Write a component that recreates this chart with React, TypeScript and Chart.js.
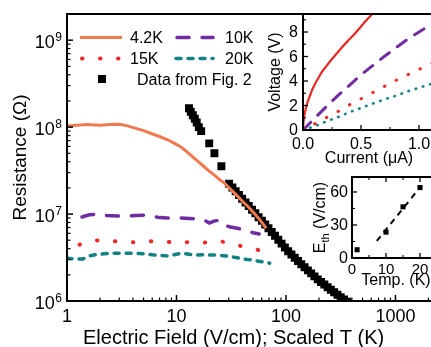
import React, { useEffect, useRef } from "react";
import { Chart, registerables } from "chart.js";
Chart.register(...registerables);

const FONT = '"Liberation Sans", Arial, Helvetica, sans-serif';
const CW = 470;
const CH = 347;

// ---------------- main plot data ----------------
const field42 = [1, 1.5, 2.0, 2.5, 3.0, 3.5, 4.1, 5.0, 5.8, 7.0, 8.4, 9.6, 11, 12.7, 14.5, 16.2, 17.9, 20, 22.2, 24.7, 27.4, 30.5, 33.9, 39, 45.6, 52, 59, 66];
const res42 = [1.03e8, 1.07e8, 1.05e8, 1.07e8, 1.08e8, 1.04e8, 9.8e7, 9.1e7, 8.5e7, 7.8e7, 7.1e7, 6.5e7, 5.9e7, 5.1e7, 4.4e7, 3.9e7, 3.5e7, 3.1e7, 2.8e7, 2.5e7, 2.27e7, 1.98e7, 1.74e7, 1.45e7, 1.2e7, 1.0e7, 8.3e6, 6.9e6];

const field10 = [1.37, 1.6, 1.9, 2.3, 2.9, 3.6, 4.3, 5.0, 6.0, 7.0, 8.3, 9.5, 11, 13, 15, 17.9, 20, 22, 25, 28, 31, 35, 39, 44, 50, 57];
const res10 = [9.25e6, 9.8e6, 1.0e7, 9.6e6, 9.5e6, 9.5e6, 9.6e6, 9.7e6, 9.4e6, 9.1e6, 9.0e6, 9.1e6, 9.0e6, 8.9e6, 8.8e6, 8.5e6, 7.9e6, 8.3e6, 8.5e6, 7.4e6, 7.1e6, 6.9e6, 6.7e6, 6.4e6, 6.1e6, 5.9e6];

const field15 = [1.3, 1.6, 1.95, 2.5, 3.2, 4.0, 5.0, 6.5, 8, 10, 12.5, 15, 18, 21, 25, 30, 35, 42, 50, 56];
const res15 = [4.45e6, 4.8e6, 5.0e6, 4.9e6, 4.8e6, 4.75e6, 4.8e6, 4.9e6, 4.8e6, 4.7e6, 4.75e6, 4.8e6, 4.7e6, 4.8e6, 4.9e6, 4.6e6, 4.4e6, 4.2e6, 4.0e6, 3.85e6];

const field20 = [1.0, 1.2, 1.4, 1.6, 1.8, 2.2, 2.7, 3.3, 4.1, 5.0, 6.0, 7.0, 8.3, 9.5, 11, 13, 15, 18, 21, 24, 28, 33, 38, 44, 50, 58, 65, 71];
const res20 = [3.1e6, 3.05e6, 3.05e6, 3.3e6, 3.4e6, 3.5e6, 3.55e6, 3.55e6, 3.55e6, 3.5e6, 3.4e6, 3.35e6, 3.3e6, 3.4e6, 3.55e6, 3.45e6, 3.38e6, 3.4e6, 3.38e6, 3.38e6, 3.3e6, 3.2e6, 3.1e6, 3.0e6, 2.95e6, 2.85e6, 2.78e6, 2.72e6];

const fieldFig2 = [13.0, 13.5, 14.1, 14.7, 15.3, 16.0, 16.8, 19.9, 22.2, 25.7,
  30.2, 32.4, 34.7, 37.2, 39.8, 42.7, 45.7, 49.0, 52.5, 56.2, 60.3, 64.6, 69.2, 74.1, 79.4, 85.1, 91.2, 97.7,
  104.7, 112.2, 120.2, 128.8, 138, 147.9, 158.5, 169.8, 182, 195, 208.9, 223.9, 239.9, 257, 275.4, 295, 316, 339, 363, 389, 417];
const resFig2 = [1.65e8, 1.5e8, 1.37e8, 1.25e8, 1.13e8, 1.0e8, 9.0e7, 6.5e7, 5.0e7, 3.55e7,
  2.23e7, 2.02e7, 1.83e7, 1.66e7, 1.5e7, 1.36e7, 1.24e7, 1.12e7, 1.02e7, 9.2e6, 8.36e6, 7.59e6, 6.87e6, 6.22e6, 5.62e6, 5.07e6, 4.57e6, 4.12e6,
  3.73e6, 3.43e6, 3.14e6, 2.88e6, 2.65e6, 2.44e6, 2.25e6, 2.08e6, 1.92e6, 1.774e6, 1.656e6, 1.545e6, 1.442e6, 1.346e6, 1.259e6, 1.18e6, 1.109e6, 1.042e6, 0.98e6, 0.92e6, 0.865e6];

const resDecades = [1e6, 1e7, 1e8, 1e9];
const resExponents = ["6", "7", "8", "9"];
const fieldTicks = [1, 10, 100, 1000];
const fieldTickLabels = ["1", "10", "100", "1000"];

// ---------------- top inset (I-V) ----------------
const iv42I = [0, 0.005, 0.01, 0.02, 0.04, 0.06, 0.08, 0.1, 0.13, 0.16, 0.2, 0.25, 0.3, 0.35, 0.4, 0.45, 0.5, 0.55, 0.6, 0.65];
const iv42V = [0, 0.7, 1.1, 1.6, 2.3, 2.8, 3.3, 3.7, 4.2, 4.7, 5.2, 5.8, 6.35, 6.9, 7.4, 7.9, 8.45, 9.0, 9.5, 10.0];
const ivI = [0, 0.1, 0.2, 0.3, 0.4, 0.5, 0.6, 0.7, 0.8, 0.9, 1.0, 1.1, 1.15];
const iv10V = [0, 0.95, 1.9, 2.8, 3.65, 4.5, 5.25, 6.0, 6.7, 7.4, 8.0, 8.6, 8.9];
const iv15V = [0, 0.5, 1.0, 1.5, 2.05, 2.55, 3.05, 3.55, 4.05, 4.5, 4.95, 5.4, 5.6];
const iv20V = [0, 0.3, 0.7, 1.05, 1.45, 1.8, 2.15, 2.5, 2.8, 3.15, 3.45, 3.75, 3.9];
const ivXTicks = [0, 0.5, 1.0];
const ivXTickLabels = ["0.0", "0.5", "1.0"];
const ivXMinor = [0.25, 0.75];
const ivYTicks = [0, 2, 4, 6, 8];
const ivYMinor = [1, 3, 5, 7, 9];

// ---------------- bottom inset (Eth vs T) ----------------
const ethTemp = [1.5, 10, 15, 20];
const ethField = [7.5, 23.5, 46.5, 64];
const fitTemp = [7.3, 20.5];
const fitField = [15.5, 66];
const ethXTicks = [0, 10, 20];
const ethXMinor = [5, 15, 25];
const ethYTicks = [0, 30, 60];
const ethYMinor = [15, 45];

const ORANGE = "rgb(240,122,80)";
const PURPLE = "rgb(112,44,160)";
const RED = "rgb(240,40,40)";
const TEAL = "rgb(20,130,130)";

const pts = (xs: number[], ys: number[]) => xs.map((x, i) => ({ x, y: ys[i] }));

function seg(ctx: CanvasRenderingContext2D, x1: number, y1: number, x2: number, y2: number, w: number) {
  ctx.lineWidth = w;
  ctx.beginPath();
  ctx.moveTo(x1, y1);
  ctx.lineTo(x2, y2);
  ctx.stroke();
}
function txt(ctx: CanvasRenderingContext2D, s: string, x: number, y: number, size: number, align: CanvasTextAlign = "left", baseline: CanvasTextBaseline = "alphabetic") {
  ctx.font = `${size}px ${FONT}`;
  ctx.textAlign = align;
  ctx.textBaseline = baseline;
  ctx.fillText(s, x, y);
}
function frame(ctx: CanvasRenderingContext2D, a: any) {
  ctx.lineWidth = 2;
  ctx.lineJoin = "miter";
  ctx.beginPath();
  ctx.moveTo(a.right + 5, a.top);
  ctx.lineTo(a.left, a.top);
  ctx.lineTo(a.left, a.bottom);
  ctx.lineTo(a.right + 5, a.bottom);
  ctx.stroke();
}

const mainPlugin = {
  id: "mainDecor",
  afterDraw(chart: any) {
    const { ctx, chartArea: a, scales } = chart;
    const x = scales.x, y = scales.y;
    ctx.save();
    ctx.strokeStyle = "#000";
    ctx.fillStyle = "#000";
    ctx.setLineDash([]);
    frame(ctx, a);
    resDecades.forEach((d) => {
      const py = y.getPixelForValue(d);
      seg(ctx, a.left, py, a.left + 6, py, 1.5);
      for (let k = 2; k <= 9; k++) {
        const v = d * k;
        if (v >= 2e9) continue;
        const p = y.getPixelForValue(v);
        seg(ctx, a.left, p, a.left + 3.5, p, 1.2);
      }
    });
    fieldTicks.forEach((d) => {
      const px = x.getPixelForValue(d);
      seg(ctx, px, a.bottom, px, a.bottom - 6, 1.5);
      for (let k = 2; k <= 9; k++) {
        const v = d * k;
        if (v > 4000) continue;
        const p = x.getPixelForValue(v);
        seg(ctx, p, a.bottom, p, a.bottom - 3.5, 1.2);
      }
    });
    resDecades.forEach((d, i) => {
      const py = y.getPixelForValue(d);
      ctx.font = `12px ${FONT}`;
      const we = ctx.measureText(resExponents[i]).width;
      const ex = a.left - 5 - we;
      txt(ctx, resExponents[i], ex, py + 0.5, 12, "left");
      txt(ctx, "10", ex - 0.5, py + 8, 18, "right");
    });
    fieldTicks.forEach((d, i) => {
      txt(ctx, fieldTickLabels[i], x.getPixelForValue(d), a.bottom + 21, 18, "center");
    });
    txt(ctx, "Electric Field (V/cm); Scaled T (K)", 83, 344, 20, "left");
    ctx.save();
    ctx.translate(26, (a.top + a.bottom) / 2);
    ctx.rotate(-Math.PI / 2);
    txt(ctx, "Resistance (\u03A9)", 0, 0, 19, "center");
    ctx.restore();
    // legend
    const ds = chart.data.datasets;
    const sample = (d: any, x1: number, x2: number, yy: number) => {
      ctx.save();
      ctx.strokeStyle = d.borderColor;
      ctx.lineWidth = d.borderWidth;
      ctx.lineCap = d.borderCapStyle || "butt";
      ctx.setLineDash(d.borderDash || []);
      ctx.beginPath();
      ctx.moveTo(x1, yy);
      ctx.lineTo(x2, yy);
      ctx.stroke();
      ctx.restore();
    };
    sample(ds[0], 80, 122, 37.5);
    txt(ctx, ds[0].label, 130, 43, 16);
    sample(ds[1], 177, 213, 37.5);
    txt(ctx, ds[1].label, 225, 43, 16);
    sample(ds[2], 82, 119, 58.5);
    txt(ctx, ds[2].label, 130, 64, 16);
    sample(ds[3], 176, 213, 58.5);
    txt(ctx, ds[3].label, 225, 64, 16);
    ctx.fillRect(98, 75, 8, 8);
    txt(ctx, ds[4].label, 137, 85, 16);
    ctx.restore();
  },
};

const ivPlugin = {
  id: "ivDecor",
  beforeDraw(chart: any) {
    const { ctx, chartArea: a } = chart;
    ctx.save();
    ctx.fillStyle = "#fff";
    ctx.fillRect(a.left, a.top, a.right - a.left + 10, a.bottom - a.top);
    ctx.restore();
  },
  afterDraw(chart: any) {
    const { ctx, chartArea: a, scales } = chart;
    const x = scales.x, y = scales.y;
    ctx.save();
    ctx.strokeStyle = "#000";
    ctx.fillStyle = "#000";
    frame(ctx, a);
    ivYTicks.forEach((v) => { const p = y.getPixelForValue(v); seg(ctx, a.left, p, a.left + 5, p, 1.3); });
    ivYMinor.forEach((v) => { const p = y.getPixelForValue(v); seg(ctx, a.left, p, a.left + 3, p, 1.1); });
    ivXTicks.forEach((v) => { const p = x.getPixelForValue(v); seg(ctx, p, a.bottom, p, a.bottom - 5, 1.3); });
    ivXMinor.forEach((v) => { const p = x.getPixelForValue(v); seg(ctx, p, a.bottom, p, a.bottom - 3, 1.1); });
    ivYTicks.forEach((v) => txt(ctx, String(v), a.left - 5, y.getPixelForValue(v) + 1, 16, "right", "middle"));
    ivXTicks.forEach((v, i) => txt(ctx, ivXTickLabels[i], x.getPixelForValue(v), a.bottom + 19, 16, "center"));
    txt(ctx, "Current (\u03BCA)", 369, 163, 16, "center");
    ctx.save();
    ctx.translate(280, (a.top + a.bottom) / 2);
    ctx.rotate(-Math.PI / 2);
    txt(ctx, "Voltage (V)", 0, 0, 16, "center");
    ctx.restore();
    ctx.restore();
  },
};

const ethPlugin = {
  id: "ethDecor",
  beforeDraw(chart: any) {
    const { ctx, chartArea: a } = chart;
    ctx.save();
    ctx.fillStyle = "#fff";
    ctx.fillRect(a.left, a.top, a.right - a.left + 10, a.bottom - a.top);
    ctx.restore();
  },
  afterDraw(chart: any) {
    const { ctx, chartArea: a, scales } = chart;
    const x = scales.x, y = scales.y;
    ctx.save();
    ctx.strokeStyle = "#000";
    ctx.fillStyle = "#000";
    frame(ctx, a);
    ethYTicks.forEach((v) => { const p = y.getPixelForValue(v); seg(ctx, a.left, p, a.left + 5, p, 1.3); });
    ethYMinor.forEach((v) => { const p = y.getPixelForValue(v); seg(ctx, a.left, p, a.left + 3, p, 1.1); });
    ethXTicks.forEach((v) => {
      const p = x.getPixelForValue(v);
      seg(ctx, p, a.bottom, p, a.bottom - 5, 1.3);
      seg(ctx, p, a.top, p, a.top + 5, 1.3);
    });
    ethXMinor.forEach((v) => {
      const p = x.getPixelForValue(v);
      seg(ctx, p, a.bottom, p, a.bottom - 3, 1.1);
      seg(ctx, p, a.top, p, a.top + 3, 1.1);
    });
    ethYTicks.forEach((v) => txt(ctx, String(v), a.left - 4, y.getPixelForValue(v) + 1, 16, "right", "middle"));
    ethXTicks.forEach((v) => txt(ctx, String(v), x.getPixelForValue(v), a.bottom + 16, 15, "center"));
    txt(ctx, "Temp. (K)", 396, 285, 16, "center");
    ctx.save();
    ctx.translate(325, (a.top + a.bottom) / 2);
    ctx.rotate(-Math.PI / 2);
    ctx.font = `16px ${FONT}`;
    const wE = ctx.measureText("E").width;
    const wR = ctx.measureText(" (V/cm)").width;
    ctx.font = `11px ${FONT}`;
    const wT = ctx.measureText("th").width;
    let xx = -(wE + wT + wR) / 2;
    txt(ctx, "E", xx, 0, 16);
    xx += wE;
    txt(ctx, "th", xx, 4, 11);
    xx += wT;
    txt(ctx, " (V/cm)", xx, 0, 16);
    ctx.restore();
    ctx.restore();
  },
};

function useChart(ref: React.RefObject<HTMLCanvasElement | null>, make: () => any) {
  useEffect(() => {
    if (!ref.current) return;
    const chart = new Chart(ref.current, make());
    return () => chart.destroy();
  }, []);
}

const hidden = (type: string, min: number, max: number) => ({ type, min, max, display: false });

export default function App() {
  const mainRef = useRef<HTMLCanvasElement>(null);
  const ivRef = useRef<HTMLCanvasElement>(null);
  const ethRef = useRef<HTMLCanvasElement>(null);

  useChart(mainRef, () => ({
    type: "scatter",
    data: {
      datasets: [
        { label: "4.2K", data: pts(field42, res42), showLine: true, borderColor: ORANGE, borderWidth: 3, pointRadius: 0, clip: 0 },
        { label: "10K", data: pts(field10, res10), showLine: true, borderColor: PURPLE, borderWidth: 3.5, borderDash: [12, 13], borderCapStyle: "round", pointRadius: 0, clip: 0 },
        { label: "15K", data: pts(field15, res15), showLine: true, borderColor: RED, borderWidth: 4, borderDash: [0.5, 17.5], borderCapStyle: "round", pointRadius: 0, clip: 0 },
        { label: "20K", data: pts(field20, res20), showLine: true, borderColor: TEAL, borderWidth: 3.5, borderDash: [5, 7], borderCapStyle: "round", pointRadius: 0, clip: 0 },
        { label: "Data from Fig. 2", data: pts(fieldFig2, resFig2), showLine: false, pointStyle: "rect", pointRadius: 5.6, backgroundColor: "#000", borderColor: "#000", borderWidth: 0, clip: 0 },
      ],
    },
    options: {
      responsive: false,
      animation: false,
      devicePixelRatio: 1,
      layout: { padding: { left: 67, top: 14, right: 8.6, bottom: 46 } },
      plugins: { legend: { display: false }, tooltip: { enabled: false } },
      scales: { x: hidden("logarithmic", 1, 4000), y: hidden("logarithmic", 1e6, 2e9) },
    },
    plugins: [mainPlugin],
  }));

  useChart(ivRef, () => ({
    type: "scatter",
    data: {
      datasets: [
        { label: "4.2K", data: pts(iv42I, iv42V), showLine: true, borderColor: "rgb(232,40,36)", borderWidth: 2.2, pointRadius: 0, cubicInterpolationMode: "monotone", clip: 0 },
        { label: "10K", data: pts(ivI, iv10V), showLine: true, borderColor: PURPLE, borderWidth: 3, borderDash: [11, 10], borderCapStyle: "round", pointRadius: 0, clip: 0 },
        { label: "15K", data: pts(ivI, iv15V), showLine: true, borderColor: RED, borderWidth: 3, borderDash: [0.5, 12.7], borderCapStyle: "round", pointRadius: 0, clip: 0 },
        { label: "20K", data: pts(ivI, iv20V), showLine: true, borderColor: TEAL, borderWidth: 2.6, borderDash: [0.5, 7], borderCapStyle: "round", pointRadius: 0, clip: 0 },
      ],
    },
    options: {
      responsive: false,
      animation: false,
      devicePixelRatio: 1,
      layout: { padding: { left: 303, top: 14, right: CW - 436.4, bottom: CH - 130 } },
      plugins: { legend: { display: false }, tooltip: { enabled: false } },
      scales: { x: hidden("linear", 0, 1.15), y: hidden("linear", 0, 9.47) },
    },
    plugins: [ivPlugin],
  }));

  useChart(ethRef, () => ({
    type: "scatter",
    data: {
      datasets: [
        { label: "fit", data: pts(fitTemp, fitField), showLine: true, borderColor: "#000", borderWidth: 2, borderDash: [6, 5], pointRadius: 0, clip: 0 },
        { label: "Eth", data: pts(ethTemp, ethField), showLine: false, pointStyle: "rect", pointRadius: 3.6, backgroundColor: "#000", borderWidth: 0, clip: 0 },
      ],
    },
    options: {
      responsive: false,
      animation: false,
      devicePixelRatio: 1,
      layout: { padding: { left: 352, top: 177, right: CW - 437, bottom: CH - 258 } },
      plugins: { legend: { display: false }, tooltip: { enabled: false } },
      scales: { x: hidden("linear", 0, 25), y: hidden("linear", 0, 73.6) },
    },
    plugins: [ethPlugin],
  }));

  const cs: React.CSSProperties = { position: "absolute", left: 0, top: 0 };
  return (
    <div style={{ position: "fixed", left: 0, top: 0, width: 431, height: 347, overflow: "hidden", background: "#fff" }}>
      <canvas ref={mainRef} width={CW} height={CH} style={cs} />
      <canvas ref={ivRef} width={CW} height={CH} style={cs} />
      <canvas ref={ethRef} width={CW} height={CH} style={cs} />
    </div>
  );
}
